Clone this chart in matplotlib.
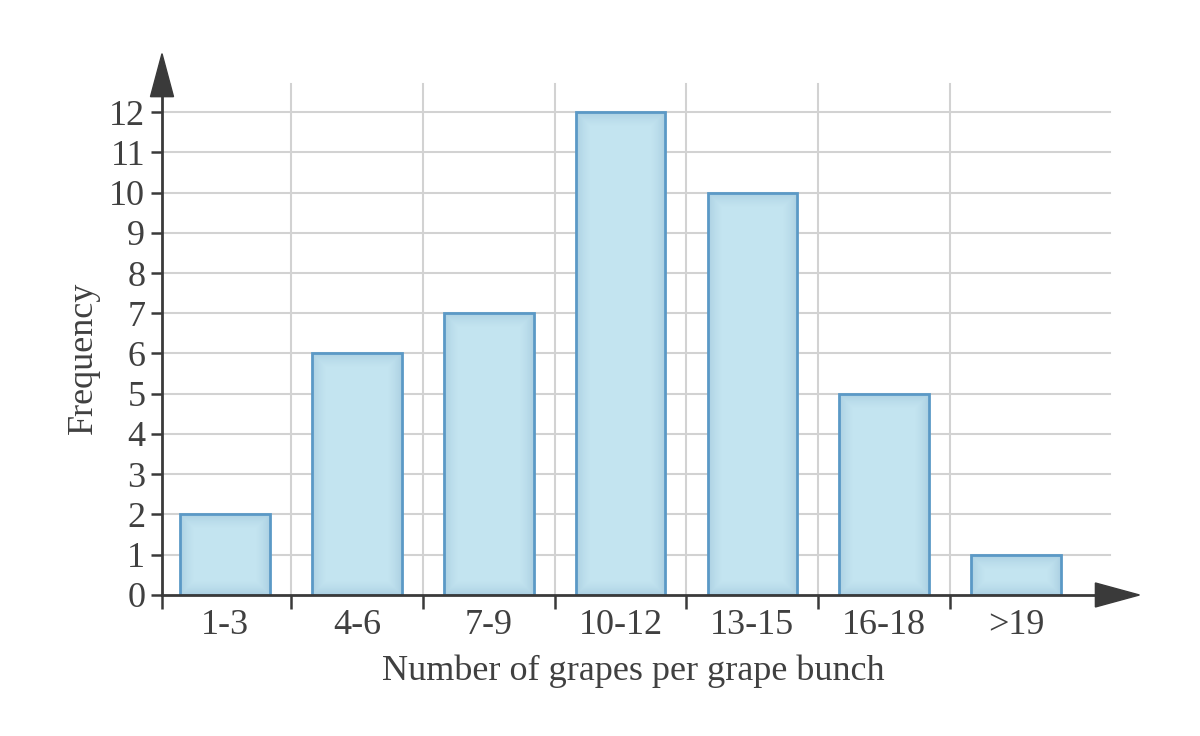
import matplotlib
matplotlib.use("Agg")
import matplotlib.pyplot as plt
from matplotlib.patches import Polygon, Rectangle

categories = ["1-3", "4-6", "7-9", "10-12", "13-15", "16-18", ">19"]
frequency = [2, 6, 7, 12, 10, 5, 1]
y_ticks = list(range(0, 13))

plt.rcParams['font.family'] = ['Liberation Serif', 'DejaVu Serif']
text_color = '#404040'
axis_color = '#3a3a3a'
grid_color = '#d2d2d2'

fig = plt.figure(figsize=(12, 7.36), dpi=100)
ax_w = 0.8167
ax_h = 0.7437
ax = fig.add_axes([0.135, 0.1916, ax_w, ax_h])
x_min, x_max = -0.479, 6.956
y_min, y_max = 0, 13.6
ax.set_xlim(x_min, x_max)
ax.set_ylim(y_min, y_max)
for s in ax.spines.values():
    s.set_visible(False)

# px -> data scale
px_x = (x_max - x_min) / (ax_w * 1200)
px_y = (y_max - y_min) / (ax_h * 736)

n = len(categories)
# grid
for yv in y_ticks[1:]:
    ax.plot([x_min, 6.714], [yv, yv], color=grid_color, lw=1.5, zorder=1)
for i in range(1, n):
    ax.plot([i - 0.5, i - 0.5], [0, 12.7], color=grid_color, lw=1.5, zorder=1)

# bars with soft inner shading
width = 0.68
for i, v in enumerate(frequency):
    ax.add_patch(Rectangle((i - width / 2, 0), width, v, facecolor='#c3e4f0',
                           edgecolor='none', zorder=2))
    for k in range(1, 14):
        ax.add_patch(Rectangle((i - width / 2 + k * px_x, k * px_y),
                               width - 2 * k * px_x, v - 2 * k * px_y,
                               facecolor='none', edgecolor='#7fa9c9',
                               lw=1.2, alpha=0.2 * ((14 - k) / 13) ** 1.5, zorder=3))
    ax.add_patch(Rectangle((i - width / 2, 0), width, v, facecolor='none',
                           edgecolor='#5b99c6', lw=2, zorder=4))

# axes with arrows
y_arrow_base = y_max - 43 * px_y - 0.15
ax.plot([x_min, x_min], [0, y_arrow_base], color=axis_color, lw=2, zorder=5, clip_on=False)
ax.add_patch(Polygon([[x_min - 11.5 * px_x, y_arrow_base], [x_min + 11.5 * px_x, y_arrow_base],
                      [x_min, y_arrow_base + 43 * px_y]], closed=True,
                     facecolor=axis_color, edgecolor=axis_color, zorder=6, clip_on=False))
x_arrow_base = x_max - 44 * px_x - 0.02
ax.plot([x_min, x_arrow_base], [0, 0], color=axis_color, lw=2, zorder=5, clip_on=False)
ax.add_patch(Polygon([[x_arrow_base, -12 * px_y], [x_arrow_base, 12 * px_y],
                      [x_arrow_base + 44 * px_x, 0]], closed=True,
                     facecolor=axis_color, edgecolor=axis_color, zorder=6, clip_on=False))

# ticks
ax.set_yticks(y_ticks)
ax.set_yticklabels([str(t) for t in y_ticks])
ax.set_xticks(range(n))
ax.set_xticklabels(categories)
ax.set_xticks([x_min] + [i - 0.5 for i in range(1, n)], minor=True)
ax.tick_params(axis='x', which='major', length=0, pad=10, labelsize=26, labelcolor=text_color)
ax.tick_params(axis='x', which='minor', length=10, width=1.8, color=axis_color, direction='out')
ax.tick_params(axis='y', which='major', length=8, width=1.8, color=axis_color, pad=4,
               labelsize=26, labelcolor=text_color)

ax.set_xlabel("Number of grapes per grape bunch", fontsize=26, color=text_color)
ax.xaxis.set_label_coords((633 - 162) / (ax_w * 1200), -0.108)
ax.set_ylabel("Frequency", fontsize=26, color=text_color)
ax.yaxis.set_label_coords(-0.0633, (736 - 358 - 141) / (ax_h * 736))

fig.savefig("out.png", dpi=100)
